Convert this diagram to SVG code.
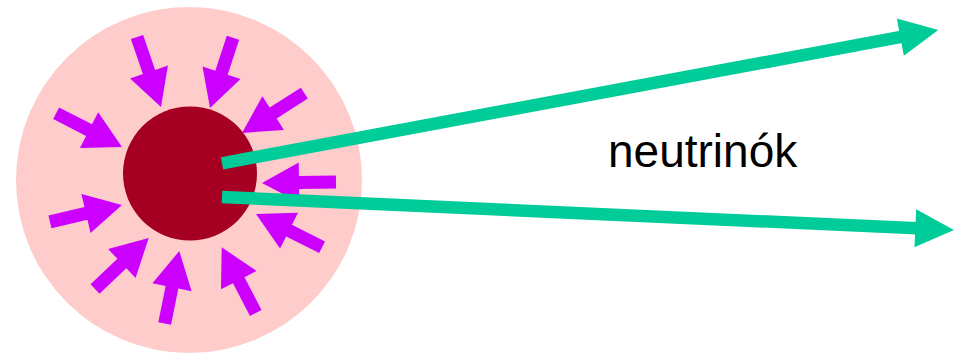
<svg xmlns="http://www.w3.org/2000/svg" width="956" height="355" viewBox="0 0 956 355">
  <style>
    .shell { fill: #ffcccc; }
    .core { fill: #a50021; }
    .infall { fill: #cc00ff; }
    .nu-shaft { stroke: #00cc99; stroke-width: 12.5; fill: none; }
    .nu-head { fill: #00cc99; }
    .label { font-family: "Liberation Sans", Arial, sans-serif; font-size: 46px; fill: #000; }
  </style>
  <defs>
    <!-- block arrow pointing along +x, tip at the origin -->
    <path id="inArrow" d="M -74 -6.5 L -37 -6.5 L -37 -20 L 0 0 L -37 20 L -37 6.5 L -74 6.5 Z"/>
  </defs>

  <g id="shell"><circle class="shell" cx="189" cy="180" r="173"/></g>
  <g id="core"><circle class="core" cx="190" cy="173.5" r="67"/></g>

  <!-- matter falling in onto the core -->
  <g id="infall" class="infall">
    <use href="#inArrow" transform="translate(161,107) rotate(71.1)"/>
    <use href="#inArrow" transform="translate(210,108) rotate(108.1)"/>
    <use href="#inArrow" transform="translate(242,133) rotate(147.4)"/>
    <use href="#inArrow" transform="translate(122,147) rotate(27.1)"/>
    <use href="#inArrow" transform="translate(262,183) rotate(179.2)"/>
    <use href="#inArrow" transform="translate(122,205) rotate(-13.2)"/>
    <use href="#inArrow" transform="translate(256,214) rotate(-153.3)"/>
    <use href="#inArrow" transform="translate(148.7,238) rotate(-43.5)"/>
    <use href="#inArrow" transform="translate(179.3,251) rotate(-78.6)"/>
    <use href="#inArrow" transform="translate(221.7,247.3) rotate(-117.4)"/>
  </g>

  <!-- outgoing neutrino rays -->
  <g id="connectors">
    <g transform="translate(222,163.3) rotate(-10.54)">
      <line class="nu-shaft" x1="0" y1="0" x2="692" y2="0"/>
      <polygon class="nu-head" points="690,-19 728.6,0 690,19"/>
    </g>
    <g transform="translate(222,197) rotate(2.58)">
      <line class="nu-shaft" x1="0" y1="0" x2="696" y2="0"/>
      <polygon class="nu-head" points="694,-19 732.7,0 694,19"/>
    </g>
  </g>

  <g id="label"><text class="label" x="608" y="167.3">neutrinók</text></g>
</svg>
